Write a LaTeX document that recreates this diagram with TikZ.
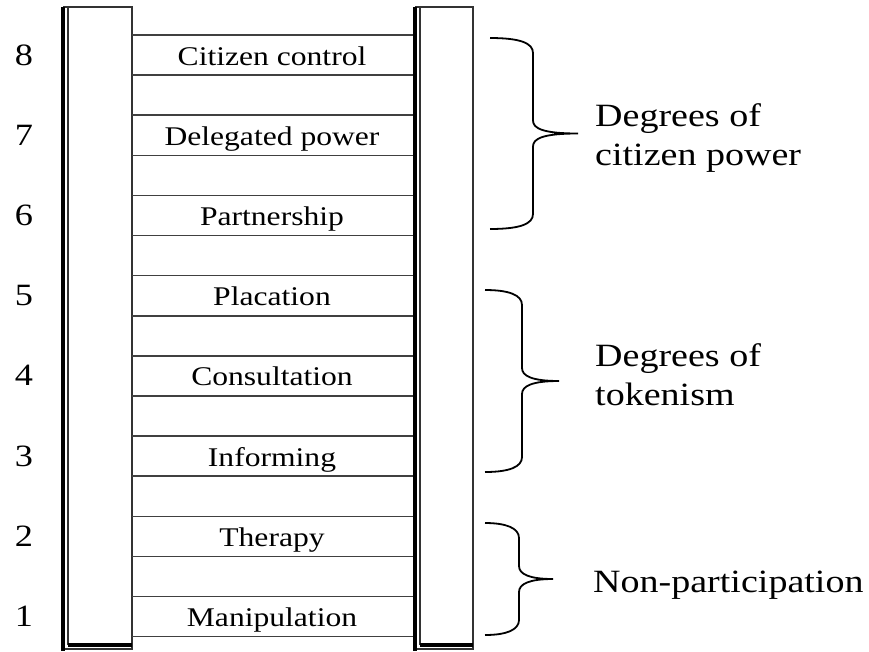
\documentclass[tikz,border=0pt]{standalone}
\usepackage{fontspec}
\setmainfont{Liberation Serif}[FakeStretch=1.17]
\usetikzlibrary{positioning}

% brace: top y, bottom y, end x, spine x, tip x
\newcommand{\ladderbrace}[5]{%
	\draw[brc] (#3,#1) .. controls ({#4-13},#1) and (#4,{#1+5}) .. (#4,{#1+15})
		-- (#4,{(#1+#2)/2-13}) .. controls (#4,{(#1+#2)/2-5}) and ({#4+10},{(#1+#2)/2}) .. (#5,{(#1+#2)/2})
		.. controls ({#4+10},{(#1+#2)/2}) and (#4,{(#1+#2)/2+5}) .. (#4,{(#1+#2)/2+13})
		-- (#4,{#2-15}) .. controls (#4,{#2-5}) and ({#4-13},#2) .. (#3,#2);
}

\begin{document}
\begin{tikzpicture}[x=1pt,y=-1pt]
	\tikzstyle{every node}=[inner sep=0pt];
	\tikzstyle{rung}=[draw=black!75,line width=1.5pt];
	\tikzstyle{rail}=[draw=black!80,line width=1.5pt];
	\tikzstyle{shadow}=[draw=black,line width=4pt];
	\tikzstyle{brc}=[draw=black,line width=1.8pt];
	\tikzstyle{stepname}=[font=\fontsize{27}{30}\selectfont,anchor=base];
	\tikzstyle{stepnum}=[font=\fontsize{31}{34}\selectfont,anchor=base];
	\tikzstyle{group}=[font=\fontsize{32.5}{39}\selectfont,anchor=base west];
	\useasboundingbox (0,0) rectangle (869,651);
	% left rail
	\draw[rail] (63,7) -- (132,7) -- (132,649) -- (63,649);
	\draw[rail] (68,7) -- (68,645);
	\draw[shadow] (63,7) -- (63,651);
	\draw[shadow] (68,645) -- (132,645);
	% right rail
	\draw[rail] (415,7) -- (473,7) -- (473,649) -- (415,649);
	\draw[rail] (420,7) -- (420,645);
	\draw[shadow] (415,7) -- (415,651);
	\draw[shadow] (420,645) -- (473,645);
	% rungs
	\foreach \k in {0,...,15}
		\draw[rung] (132,{35+40.11*\k}) -- (413,{35+40.11*\k});
	% steps
	\foreach \n/\txt in {8/Citizen control,7/Delegated power,6/Partnership,5/Placation,4/Consultation,3/Informing,2/Therapy,1/Manipulation}{
		\node[stepname] (step\n) at (272,{65+80.22*(8-\n)}) {\txt};
		\node[stepnum] (num\n) at (24,{65+80.22*(8-\n)}) {\n};
	}
	% braces
	\ladderbrace{38}{229}{490}{533}{578}
	\ladderbrace{290}{472}{485}{522}{559}
	\ladderbrace{523}{635}{485}{519}{553}
	\node[group] (powerA) at (595,126) {Degrees of};
	\node[group] (powerB) at (595,165) {citizen power};
	\node[group] (tokenA) at (595,366) {Degrees of};
	\node[group] (tokenB) at (595,405) {tokenism};
	\node[group] (nonpart) at (593,592) {Non-participation};
\end{tikzpicture}
\end{document}
